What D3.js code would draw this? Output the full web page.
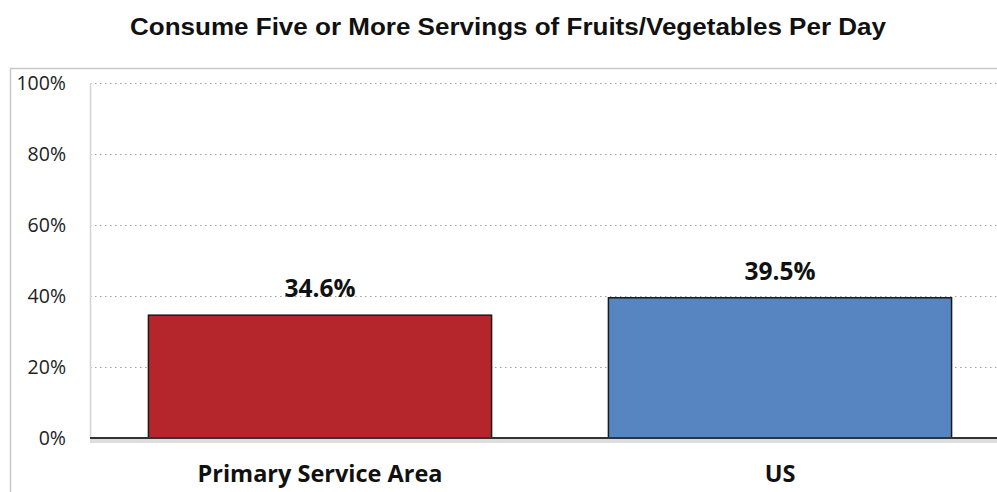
<!DOCTYPE html>
<html><head><meta charset="utf-8">
<script src="https://cdn.jsdelivr.net/npm/d3@7"></script>
<style>body{margin:0;background:#fff;overflow:hidden}</style>
</head><body>
<svg id="chart" width="997" height="492"></svg>
<script>
const title = "Consume Five or More Servings of Fruits/Vegetables Per Day";
const categories = ["Primary Service Area", "US"];
const values = [34.6, 39.5];
const valueLabels = ["34.6%", "39.5%"];
const colors = ["#b5262c", "#5685c2"];
const yTicks = [0, 20, 40, 60, 80, 100];

const svg = d3.select("#chart");
const plot = {left: 90, right: 1010, top: 83, bottom: 438};

// outer chart frame
svg.append("rect").attr("x", 10.5).attr("y", 68.5).attr("width", 1000).attr("height", 440)
  .attr("fill", "#fff").attr("stroke", "#c8c8c8").attr("stroke-width", 1.5);

svg.append("text").attr("x", 508).attr("y", 35).attr("text-anchor", "middle")
  .attr("font-family", "Liberation Sans, Arial, sans-serif").attr("font-weight", "bold")
  .attr("font-size", 23).attr("fill", "#111")
  .attr("textLength", 756).attr("lengthAdjust", "spacingAndGlyphs").text(title);

const x = d3.scaleBand().domain(categories).range([plot.left, plot.right])
  .paddingInner(0.254).paddingOuter(0.127);
const y = d3.scaleLinear().domain([0, 100]).range([plot.bottom, plot.top]);

// gridlines
svg.append("g").selectAll("line").data(yTicks.filter(d => d > 0)).join("line")
  .attr("x1", plot.left).attr("x2", 997)
  .attr("y1", d => y(d) + 0.5).attr("y2", d => y(d) + 0.5)
  .attr("stroke", "#a0a0a0").attr("stroke-width", 1.2).attr("stroke-dasharray", "1.5,3.5");

// left plot edge
svg.append("line").attr("x1", plot.left + 0.5).attr("x2", plot.left + 0.5)
  .attr("y1", plot.top).attr("y2", plot.bottom).attr("stroke", "#d4d4d4").attr("stroke-width", 1.5);

// y axis labels
const yAxis = d3.axisLeft(y).tickValues(yTicks).tickFormat(d => d + "%").tickSize(0).tickPadding(24);
const gy = svg.append("g").attr("transform", `translate(${plot.left},0)`).call(yAxis);
gy.select(".domain").remove();
gy.selectAll("text").attr("font-family", "Open Sans, Lato, sans-serif").attr("font-size", 19.5)
  .attr("fill", "#222");

// bars
svg.append("g").selectAll("rect").data(values).join("rect")
  .attr("x", (d, i) => x(categories[i]))
  .attr("y", d => y(d))
  .attr("width", x.bandwidth())
  .attr("height", d => y(0) - y(d))
  .attr("fill", (d, i) => colors[i])
  .attr("stroke", "#1a1a1a").attr("stroke-width", 1.5);

// baseline with shadow
svg.append("rect").attr("x", plot.left).attr("y", y(0) + 1).attr("width", 997 - plot.left).attr("height", 4)
  .attr("fill", "#ddd");
svg.append("line").attr("x1", plot.left).attr("x2", 997).attr("y1", y(0)).attr("y2", y(0))
  .attr("stroke", "#333").attr("stroke-width", 2);

// value labels
svg.append("g").selectAll("text").data(values).join("text")
  .attr("x", (d, i) => x(categories[i]) + x.bandwidth() / 2)
  .attr("y", d => y(d) - 18)
  .attr("text-anchor", "middle")
  .attr("font-family", "Open Sans, Lato, sans-serif").attr("font-weight", "bold")
  .attr("font-size", 24.5).attr("fill", "#111")
  .text((d, i) => valueLabels[i]);

// category labels
const xAxis = d3.axisBottom(x).tickSize(0).tickPadding(27);
const gx = svg.append("g").attr("transform", `translate(0,${plot.bottom})`).call(xAxis);
gx.select(".domain").remove();
gx.selectAll("text").attr("font-family", "Open Sans, Lato, sans-serif").attr("font-weight", "bold")
  .attr("font-size", 23.5).attr("fill", "#111");
</script>
</body></html>
